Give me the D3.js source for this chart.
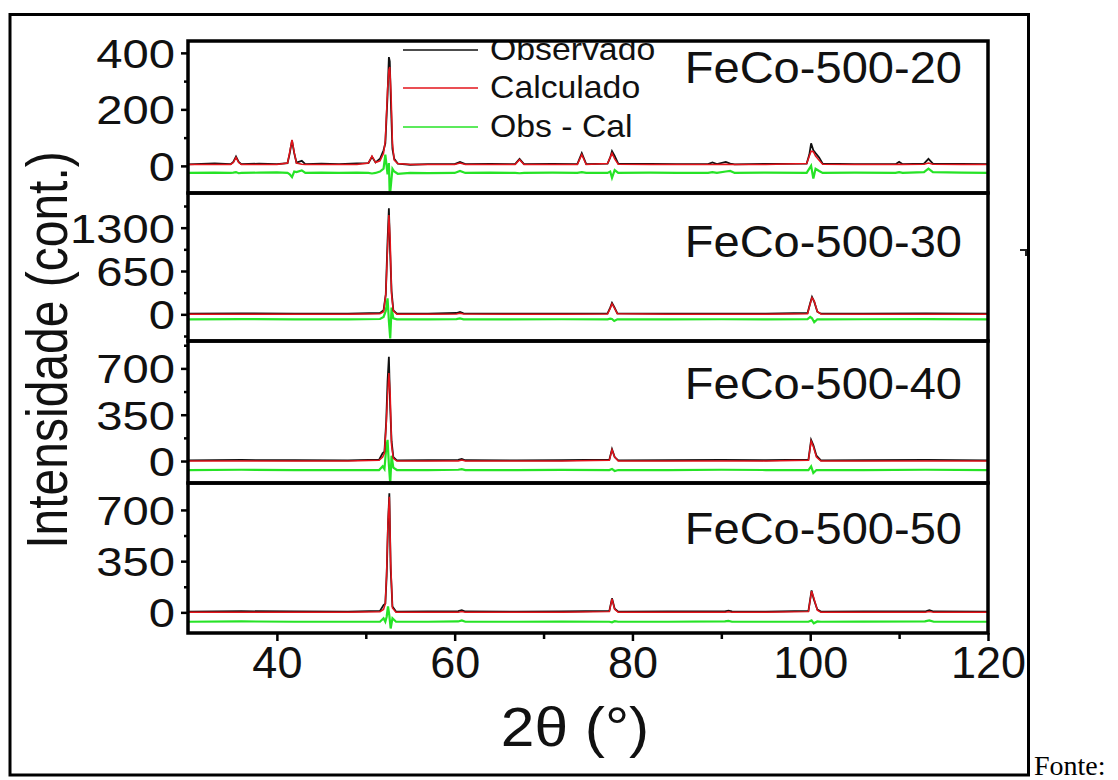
<!DOCTYPE html>
<html lang="pt">
<head>
<meta charset="UTF-8">
<title>FeCo XRD</title>
<script src="https://cdn.jsdelivr.net/npm/d3@7"></script>
<style>
  body { margin: 0; background: #fff; }
  svg { display: block; font-family: "Liberation Sans", Arial, sans-serif; }
</style>
</head>
<body>
<script>
// ---- data (2theta in degrees, intensity in counts) ----
const theta20 = [30, 33, 34.8, 35.1, 35.4, 35.7, 36.0, 38, 40.0, 41.2,
  41.45, 41.7, 41.95, 42.2, 42.8, 43.2, 45, 47, 49.0, 50.3,
  50.7, 51.1, 51.6, 52.0, 52.2, 52.45, 52.6, 52.7, 52.85, 53.0,
  53.2, 53.6, 55, 57, 60.0, 60.6, 61.2, 64, 66.8, 67.3,
  67.8, 71, 73.8, 74.3, 74.8, 77.2, 77.5, 77.7, 78.0, 78.4,
  82, 85, 88.5, 89.0, 89.5, 90.5, 91.0, 91.5, 95, 99.6,
  99.9, 100.1, 100.35, 100.6, 101.0, 101.4, 105, 109.6, 110.0, 110.4,
  112.8, 113.3, 113.8, 117, 120]
const obs20 = [5, 9, 6, 14, 33, 14, 6, 8, 6, 10,
  45, 90, 45, 12, 18, 6, 8, 6, 9, 10,
  32, 12, 25, 55, 80, 250, 385, 370, 200, 60,
  25, 8, 4, 6, 6, 14, 6, 7, 6, 25,
  6, 7, 6, 45, 6, 8, 30, 52, 35, 8,
  7, 6, 6, 12, 6, 14, 8, 5, 7, 8,
  40, 80, 55, 45, 30, 8, 6, 6, 14, 6,
  8, 25, 8, 7, 6]
const calc20 = [5, 5, 5, 12, 30, 12, 5, 5, 5, 10,
  50, 92, 48, 10, 6, 5, 5, 5, 5, 10,
  35, 12, 18, 45, 90, 270, 340, 350, 250, 80,
  20, 8, 5, 5, 5, 10, 5, 5, 5, 22,
  5, 5, 5, 40, 5, 8, 30, 45, 25, 6,
  5, 5, 5, 5, 5, 6, 5, 5, 5, 8,
  35, 52, 50, 35, 20, 6, 5, 5, 6, 5,
  6, 10, 6, 5, 5]
const diff20 = [-25, -24, -25, -24, -22, -26, -25, -24, -23, -25,
  -30, -40, -20, -22, -16, -25, -24, -25, -24, -25,
  -27, -25, -20, -10, 40, -30, 10, -110, -60, -10,
  -20, -28, -25, -26, -25, -18, -25, -24, -25, -26,
  -25, -24, -25, -22, -25, -25, -20, -42, -15, -25,
  -24, -25, -25, -22, -25, -20, -18, -25, -24, -25,
  -10, 0, -45, -10, -18, -25, -24, -25, -22, -25,
  -22, -10, -22, -24, -25]

const theta30 = [30, 36, 42, 48, 51.6, 52.0, 52.25, 52.45, 52.6, 52.75,
  52.9, 53.1, 53.5, 57, 60.2, 60.6, 61.0, 66, 72, 77.2,
  77.5, 77.7, 77.95, 78.3, 84, 90, 95, 99.7, 100.0, 100.2,
  100.45, 100.8, 101.2, 106, 113, 120]
const obs30 = [10, 15, 12, 10, 20, 60, 300, 1100, 1590, 900,
  350, 60, 10, 12, 20, 35, 15, 10, 12, 15,
  100, 170, 110, 15, 10, 12, 10, 20, 170, 260,
  190, 40, 10, 12, 15, 10]
const calc30 = [0, 0, 0, 0, 10, 40, 300, 1000, 1490, 1100,
  300, 50, 0, 0, 5, 15, 5, 0, 0, 5,
  90, 160, 100, 10, 0, 0, 0, 10, 160, 250,
  200, 40, 5, 0, 0, 0]
const diff30 = [-75, -72, -75, -75, -70, -40, 50, 240, -100, -360,
  100, -60, -75, -75, -72, -62, -75, -75, -74, -75,
  -65, -70, -100, -75, -75, -74, -75, -72, -40, -60,
  -120, -75, -75, -74, -72, -75]

const theta40 = [30, 36, 42, 48, 51.5, 51.9, 52.1, 52.3, 52.45, 52.6,
  52.75, 52.9, 53.1, 53.5, 57, 60.4, 60.8, 61.2, 67, 72,
  77.4, 77.7, 78.0, 78.4, 84, 90, 95, 99.8, 100.1, 100.35,
  100.7, 101.2, 106, 113, 120]
const obs40 = [5, 8, 6, 5, 10, 60, 70, 300, 600, 788,
  400, 150, 30, 5, 6, 8, 15, 6, 5, 6,
  10, 90, 30, 5, 6, 8, 6, 10, 160, 120,
  40, 5, 6, 8, 5]
const calc40 = [0, 0, 0, 0, 5, 30, 60, 280, 500, 665,
  500, 120, 20, 0, 0, 0, 8, 0, 0, 0,
  5, 85, 30, 0, 0, 0, 0, 5, 150, 110,
  30, 0, 0, 0, 0]
const diff40 = [-68, -66, -68, -68, -68, -40, -60, 100, 160, -30,
  -170, 40, -50, -68, -68, -66, -62, -68, -68, -67,
  -68, -60, -75, -68, -68, -66, -68, -68, -40, -90,
  -68, -68, -68, -66, -68]

const theta50 = [30, 36, 42, 48, 51.6, 52.0, 52.2, 52.35, 52.5, 52.65,
  52.8, 53.0, 53.4, 57, 60.4, 60.8, 61.2, 67, 72, 77.4,
  77.7, 78.0, 78.4, 84, 90.4, 90.8, 91.2, 95, 99.8, 100.15,
  100.4, 100.8, 101.2, 106, 112.9, 113.4, 113.9, 120]
const obs50 = [5, 8, 6, 5, 10, 50, 60, 250, 600, 813,
  300, 40, 5, 6, 8, 15, 6, 5, 6, 10,
  96, 25, 5, 6, 6, 12, 6, 5, 10, 150,
  90, 20, 5, 6, 6, 15, 6, 5]
const calc50 = [0, 0, 0, 0, 5, 20, 60, 280, 620, 790,
  350, 30, 0, 0, 0, 6, 0, 0, 0, 5,
  92, 20, 0, 0, 0, 4, 0, 0, 5, 145,
  100, 15, 0, 0, 0, 6, 0, 0]
const diff50 = [-64, -62, -64, -64, -64, -40, -64, -30, 40, -20,
  -110, -40, -64, -64, -62, -55, -64, -64, -63, -64,
  -68, -60, -64, -64, -62, -58, -64, -64, -64, -55,
  -75, -62, -64, -63, -62, -55, -64, -64]

const sampleNames = ['FeCo-500-20', 'FeCo-500-30', 'FeCo-500-40', 'FeCo-500-50']
const yMajor = [[0, 200, 400], [0, 650, 1300], [0, 350, 700], [0, 350, 700]]
const yMinor = [[100, 300], [-325, 325, 975, 1625], [175, 525, 875], [175, 525]]
const xMajor = [40, 60, 80, 100, 120]
const xMinor = [50, 70, 90, 110]
const legendNames = ['Observado', 'Calculado', 'Obs - Cal']

// ---- layout ----
const W = 1118, H = 780
const left = 188, right = 988
const edges = [41, 193, 341, 483, 633]
const yDomains = [[-96, 442], [-400, 1820], [-166, 907], [-141, 884]]
const labelDy = [42, 64, 58, 61]
const colObs = '#111', colCalc = '#e3141b', colDiff = '#26e326'

const panels = [
  { theta: theta20, obs: obs20, calc: calc20, diff: diff20 },
  { theta: theta30, obs: obs30, calc: calc30, diff: diff30 },
  { theta: theta40, obs: obs40, calc: calc40, diff: diff40 },
  { theta: theta50, obs: obs50, calc: calc50, diff: diff50 }
]

const svg = d3.select('body').append('svg').attr('width', W).attr('height', H)

const x = d3.scaleLinear().domain([30, 120]).range([left, right])

// outer frame of the figure
svg.append('rect')
  .attr('x', 10).attr('y', 14.5).attr('width', 1018.5).attr('height', 760.5)
  .attr('fill', 'none').attr('stroke', '#000').attr('stroke-width', 3)

const defs = svg.append('defs')

panels.forEach((p, i) => {
  const top = edges[i], bottom = edges[i + 1]
  const y = d3.scaleLinear().domain(yDomains[i]).range([bottom, top])
  const g = svg.append('g')

  defs.append('clipPath').attr('id', 'clip' + i)
    .append('rect').attr('x', left).attr('y', top)
    .attr('width', right - left).attr('height', bottom - top)

  const plot = g.append('g').attr('clip-path', `url(#clip${i})`)
  const line = d3.line().x(d => x(d[0])).y(d => y(d[1]))

  plot.append('path').datum(d3.zip(p.theta, p.diff))
    .attr('d', line).attr('fill', 'none').attr('stroke', colDiff).attr('stroke-width', 2.2)
  plot.append('path').datum(d3.zip(p.theta, p.obs))
    .attr('d', line).attr('fill', 'none').attr('stroke', colObs).attr('stroke-width', 1.8)
  plot.append('path').datum(d3.zip(p.theta, p.calc))
    .attr('d', line).attr('fill', 'none').attr('stroke', colCalc).attr('stroke-width', 1.5)

  // legend only in the first panel
  if (i === 0) {
    const leg = plot.append('g')
    const cols = [colObs, colCalc, colDiff]
    const ly = [50, 88, 127]
    legendNames.forEach((name, k) => {
      leg.append('line')
        .attr('x1', 403).attr('x2', 478).attr('y1', ly[k]).attr('y2', ly[k])
        .attr('stroke', cols[k]).attr('stroke-width', 1.5)
      leg.append('text')
        .attr('transform', `translate(490,${ly[k] + 10}) scale(1.09,1)`)
        .attr('font-size', 31).attr('fill', '#111')
        .text(name)
    })
  }

  g.append('text')
    .attr('transform', `translate(962,${top + labelDy[i]}) scale(1.07,1)`)
    .attr('text-anchor', 'end').attr('font-size', 44).attr('fill', '#111')
    .text(sampleNames[i])

  // y axis, major + minor ticks
  const ax = g.append('g').attr('transform', `translate(${left},0)`)
    .call(d3.axisLeft(y).tickValues(yMajor[i]).tickSize(7).tickFormat(d3.format('d')))
  ax.select('.domain').remove()
  ax.selectAll('line').attr('stroke', '#000').attr('stroke-width', 2.5)
  ax.selectAll('text')
    .attr('x', null).attr('dy', '0.36em')
    .attr('transform', 'translate(-13,0) scale(1.18,1)')
    .attr('font-size', 40).attr('font-family', '"Liberation Sans", Arial, sans-serif')
    .attr('fill', '#111')

  const axm = g.append('g').attr('transform', `translate(${left},0)`)
    .call(d3.axisLeft(y).tickValues(yMinor[i].filter(v => v > yDomains[i][0] && v < yDomains[i][1]))
      .tickSize(4).tickFormat(''))
  axm.select('.domain').remove()
  axm.selectAll('line').attr('stroke', '#000').attr('stroke-width', 2.5)

  g.append('rect')
    .attr('x', left).attr('y', top).attr('width', right - left).attr('height', bottom - top)
    .attr('fill', 'none').attr('stroke', '#000').attr('stroke-width', 3.5)
})

// x axis under the last panel
const bottomY = edges[4]
const xa = svg.append('g').attr('transform', `translate(0,${bottomY})`)
  .call(d3.axisBottom(x).tickValues(xMajor).tickSize(8))
xa.select('.domain').remove()
xa.selectAll('line').attr('stroke', '#000').attr('stroke-width', 2.5)
xa.selectAll('text')
  .attr('y', 45).attr('dy', null)
  .attr('font-size', 45).attr('font-family', '"Liberation Sans", Arial, sans-serif')
  .attr('fill', '#111')

const xm = svg.append('g').attr('transform', `translate(0,${bottomY})`)
  .call(d3.axisBottom(x).tickValues(xMinor).tickSize(6).tickFormat(''))
xm.select('.domain').remove()
xm.selectAll('line').attr('stroke', '#000').attr('stroke-width', 2.5)

// axis titles
svg.append('text')
  .attr('transform', 'translate(575,746) scale(1.08,1)')
  .attr('text-anchor', 'middle')
  .attr('font-size', 56).attr('fill', '#111')
  .text('2θ (°)')

svg.append('text')
  .attr('transform', 'translate(67,350) scale(1.18,1) rotate(-90)')
  .attr('text-anchor', 'middle').attr('font-size', 48).attr('fill', '#111')
  .text('Intensidade (cont.)')

// stray mark on the right edge and the caption fragment
svg.append('path')
  .attr('d', 'M1020,250 L1026,250 L1026,256')
  .attr('fill', 'none').attr('stroke', '#222').attr('stroke-width', 2)

svg.append('text')
  .attr('x', 1034).attr('y', 775)
  .attr('font-family', '"Liberation Serif", "Times New Roman", serif')
  .attr('font-size', 28).attr('fill', '#000')
  .text('Fonte:')
</script>
</body>
</html>
